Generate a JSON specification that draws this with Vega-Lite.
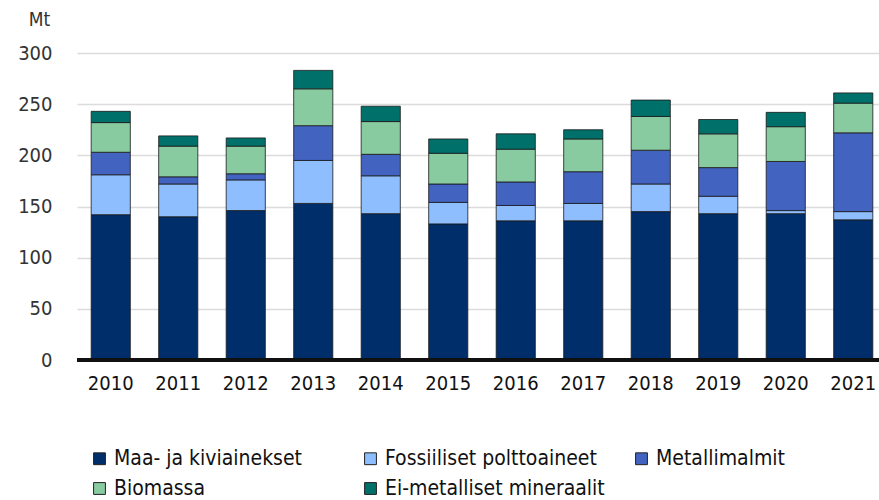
{
  "$schema": "https://vega.github.io/schema/vega-lite/v6.json",
  "width": 810,
  "height": 307,
  "autosize": {"type": "none"},
  "padding": {"left": 77, "top": 53, "right": 0, "bottom": 140},
  "background": "white",
  "config": {
    "view": {"stroke": null},
    "font": "'DejaVu Sans Condensed', 'Liberation Sans Narrow', Roboto, sans-serif"
  },
  "data": {
    "values": [
      {"year": "2010", "cat": "Maa- ja kiviainekset", "o": 1, "v": 142},
      {"year": "2010", "cat": "Fossiiliset polttoaineet", "o": 2, "v": 39},
      {"year": "2010", "cat": "Metallimalmit", "o": 3, "v": 22},
      {"year": "2010", "cat": "Biomassa", "o": 4, "v": 29},
      {"year": "2010", "cat": "Ei-metalliset mineraalit", "o": 5, "v": 11},
      {"year": "2011", "cat": "Maa- ja kiviainekset", "o": 1, "v": 140},
      {"year": "2011", "cat": "Fossiiliset polttoaineet", "o": 2, "v": 32},
      {"year": "2011", "cat": "Metallimalmit", "o": 3, "v": 7},
      {"year": "2011", "cat": "Biomassa", "o": 4, "v": 30},
      {"year": "2011", "cat": "Ei-metalliset mineraalit", "o": 5, "v": 10},
      {"year": "2012", "cat": "Maa- ja kiviainekset", "o": 1, "v": 146},
      {"year": "2012", "cat": "Fossiiliset polttoaineet", "o": 2, "v": 30},
      {"year": "2012", "cat": "Metallimalmit", "o": 3, "v": 6},
      {"year": "2012", "cat": "Biomassa", "o": 4, "v": 27},
      {"year": "2012", "cat": "Ei-metalliset mineraalit", "o": 5, "v": 8},
      {"year": "2013", "cat": "Maa- ja kiviainekset", "o": 1, "v": 153},
      {"year": "2013", "cat": "Fossiiliset polttoaineet", "o": 2, "v": 42},
      {"year": "2013", "cat": "Metallimalmit", "o": 3, "v": 34},
      {"year": "2013", "cat": "Biomassa", "o": 4, "v": 36},
      {"year": "2013", "cat": "Ei-metalliset mineraalit", "o": 5, "v": 18},
      {"year": "2014", "cat": "Maa- ja kiviainekset", "o": 1, "v": 143},
      {"year": "2014", "cat": "Fossiiliset polttoaineet", "o": 2, "v": 37},
      {"year": "2014", "cat": "Metallimalmit", "o": 3, "v": 21},
      {"year": "2014", "cat": "Biomassa", "o": 4, "v": 32},
      {"year": "2014", "cat": "Ei-metalliset mineraalit", "o": 5, "v": 15},
      {"year": "2015", "cat": "Maa- ja kiviainekset", "o": 1, "v": 133},
      {"year": "2015", "cat": "Fossiiliset polttoaineet", "o": 2, "v": 21},
      {"year": "2015", "cat": "Metallimalmit", "o": 3, "v": 18},
      {"year": "2015", "cat": "Biomassa", "o": 4, "v": 30},
      {"year": "2015", "cat": "Ei-metalliset mineraalit", "o": 5, "v": 14},
      {"year": "2016", "cat": "Maa- ja kiviainekset", "o": 1, "v": 136},
      {"year": "2016", "cat": "Fossiiliset polttoaineet", "o": 2, "v": 15},
      {"year": "2016", "cat": "Metallimalmit", "o": 3, "v": 23},
      {"year": "2016", "cat": "Biomassa", "o": 4, "v": 32},
      {"year": "2016", "cat": "Ei-metalliset mineraalit", "o": 5, "v": 15},
      {"year": "2017", "cat": "Maa- ja kiviainekset", "o": 1, "v": 136},
      {"year": "2017", "cat": "Fossiiliset polttoaineet", "o": 2, "v": 17},
      {"year": "2017", "cat": "Metallimalmit", "o": 3, "v": 31},
      {"year": "2017", "cat": "Biomassa", "o": 4, "v": 32},
      {"year": "2017", "cat": "Ei-metalliset mineraalit", "o": 5, "v": 9},
      {"year": "2018", "cat": "Maa- ja kiviainekset", "o": 1, "v": 145},
      {"year": "2018", "cat": "Fossiiliset polttoaineet", "o": 2, "v": 27},
      {"year": "2018", "cat": "Metallimalmit", "o": 3, "v": 33},
      {"year": "2018", "cat": "Biomassa", "o": 4, "v": 33},
      {"year": "2018", "cat": "Ei-metalliset mineraalit", "o": 5, "v": 16},
      {"year": "2019", "cat": "Maa- ja kiviainekset", "o": 1, "v": 143},
      {"year": "2019", "cat": "Fossiiliset polttoaineet", "o": 2, "v": 17},
      {"year": "2019", "cat": "Metallimalmit", "o": 3, "v": 28},
      {"year": "2019", "cat": "Biomassa", "o": 4, "v": 33},
      {"year": "2019", "cat": "Ei-metalliset mineraalit", "o": 5, "v": 14},
      {"year": "2020", "cat": "Maa- ja kiviainekset", "o": 1, "v": 143},
      {"year": "2020", "cat": "Fossiiliset polttoaineet", "o": 2, "v": 3},
      {"year": "2020", "cat": "Metallimalmit", "o": 3, "v": 48},
      {"year": "2020", "cat": "Biomassa", "o": 4, "v": 34},
      {"year": "2020", "cat": "Ei-metalliset mineraalit", "o": 5, "v": 14},
      {"year": "2021", "cat": "Maa- ja kiviainekset", "o": 1, "v": 137},
      {"year": "2021", "cat": "Fossiiliset polttoaineet", "o": 2, "v": 8},
      {"year": "2021", "cat": "Metallimalmit", "o": 3, "v": 77},
      {"year": "2021", "cat": "Biomassa", "o": 4, "v": 29},
      {"year": "2021", "cat": "Ei-metalliset mineraalit", "o": 5, "v": 10}
    ]
  },
  "layer": [
    {
      "mark": {"type": "bar", "stroke": "#1a1a1a", "strokeWidth": 1, "strokeOpacity": 0.8},
      "encoding": {
        "x": {
          "field": "year", "type": "nominal", "title": null,
          "scale": {"paddingInner": 0.42, "paddingOuter": 0.21},
          "axis": {
            "labelAngle": 0, "labelFontSize": 20, "labelColor": "#111111",
            "labelPadding": 13, "ticks": false, "domain": false
          }
        },
        "y": {
          "field": "v", "type": "quantitative", "stack": "zero",
          "scale": {"domain": [0, 300]},
          "title": "Mt",
          "axis": {
            "values": [0, 50, 100, 150, 200, 250, 300],
            "labelFontSize": 20, "labelColor": "#333333", "labelPadding": 25,
            "ticks": false, "domain": false,
            "gridColor": "#dcdcdc", "gridWidth": 1.5,
            "titleAngle": 0, "titleFontSize": 19, "titleFontWeight": "normal",
            "titleColor": "#333333", "titleX": -38, "titleY": -24, "titleAlign": "center"
          }
        },
        "order": {"field": "o", "type": "quantitative"},
        "color": {
          "field": "cat", "type": "nominal", "title": null,
          "scale": {
            "domain": ["Maa- ja kiviainekset", "Biomassa", "Fossiiliset polttoaineet", "Ei-metalliset mineraalit", "Metallimalmit"],
            "range": ["#002E6B", "#88CBA0", "#8FBEFF", "#00706B", "#4263C0"]
          },
          "legend": {
            "orient": "none", "legendX": 12, "legendY": 395,
            "columns": 3, "columnPadding": 26, "rowPadding": 8,
            "gridAlign": "all", "labelLimit": 400,
            "symbolType": "square", "symbolSize": 140, "symbolStrokeColor": "#222222", "symbolStrokeWidth": 1,
            "labelFontSize": 21, "labelColor": "#111111", "labelOffset": 4
          }
        }
      }
    },
    {
      "mark": {"type": "rule", "color": "#111111", "strokeWidth": 2.5},
      "encoding": {"y": {"datum": 0}}
    }
  ]
}
